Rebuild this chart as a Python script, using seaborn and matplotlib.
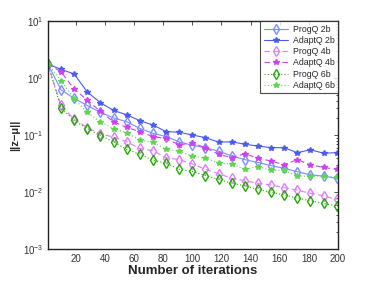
import numpy as np
import pandas as pd
import seaborn as sns
import matplotlib.pyplot as plt
from matplotlib.ticker import LogLocator, NullFormatter

# iteration numbers where the error was recorded
iterations = [1, 10, 19, 28, 37, 46, 55, 64, 73, 82, 91, 100, 109, 118,
              127, 136, 145, 154, 163, 172, 181, 190, 199]

progq_2b = [1.76, 0.62, 0.44, 0.33, 0.25, 0.20, 0.171, 0.131, 0.107, 0.094, 0.076, 0.066,
            0.060, 0.052, 0.043, 0.037, 0.033, 0.029, 0.026, 0.0227, 0.020, 0.019, 0.0174]
adaptq_2b = [1.76, 1.42, 1.18, 0.57, 0.37, 0.27, 0.227, 0.179, 0.150, 0.115, 0.112, 0.100,
             0.090, 0.075, 0.076, 0.069, 0.064, 0.060, 0.060, 0.049, 0.055, 0.048, 0.049]
progq_4b = [1.76, 0.33, 0.19, 0.135, 0.105, 0.092, 0.076, 0.058, 0.053, 0.040, 0.037, 0.031,
            0.025, 0.021, 0.0174, 0.0158, 0.0142, 0.0133, 0.0119, 0.0108, 0.0095, 0.0086, 0.0074]
adaptq_4b = [1.76, 1.29, 0.64, 0.41, 0.26, 0.17, 0.136, 0.115, 0.094, 0.087, 0.067, 0.073,
             0.060, 0.046, 0.040, 0.047, 0.039, 0.035, 0.030, 0.037, 0.030, 0.027, 0.025]
progq_6b = [1.76, 0.30, 0.18, 0.13, 0.098, 0.076, 0.056, 0.046, 0.036, 0.032, 0.025, 0.023,
            0.0194, 0.0167, 0.0142, 0.0129, 0.0111, 0.0099, 0.0089, 0.0078, 0.0070, 0.0063, 0.0057]
adaptq_6b = [1.76, 0.90, 0.43, 0.25, 0.17, 0.13, 0.11, 0.082, 0.074, 0.056, 0.052, 0.043,
             0.039, 0.032, 0.031, 0.025, 0.028, 0.024, 0.024, 0.019, 0.019, 0.019, 0.018]

labels = ["ProgQ 2b", "AdaptQ 2b", "ProgQ 4b", "AdaptQ 4b", "ProgQ 6b", "AdaptQ 6b"]
series = [progq_2b, adaptq_2b, progq_4b, adaptq_4b, progq_6b, adaptq_6b]

# style per series: colour, line style, marker, hollow marker?
styles = [
    ("#7d8cff", "-", "d", True),
    ("#4a5cf0", "-", "*", False),
    ("#e07cff", (0, (5, 3)), "d", True),
    ("#d040ee", (0, (5, 3)), "*", False),
    ("#22aa00", (0, (1, 2)), "d", True),
    ("#5fd650", (0, (1, 2)), "*", False),
]

sns.set_style("white")
plt.rcParams['font.family'] = ['Liberation Sans', 'DejaVu Sans']

fig = plt.figure(figsize=(3.74, 2.81), dpi=100)
ax = fig.add_axes([0.128, 0.114, 0.776, 0.811])

for lab, vals, (col, ls, mk, hollow) in zip(labels, series, styles):
    sns.lineplot(x=iterations, y=vals, ax=ax, label=lab, color=col,
                 linestyle=ls, linewidth=0.8, marker=mk,
                 markersize=5 if hollow else 4,
                 markerfacecolor="none" if hollow else col,
                 markeredgecolor=col, markeredgewidth=1.0)

ax.set_yscale("log")
ax.set_xlim(1, 200)
ax.set_ylim(1e-3, 1e1)
ax.set_xticks(range(20, 201, 20))
ax.yaxis.set_major_locator(LogLocator(base=10, numticks=10))
ax.yaxis.set_minor_locator(LogLocator(base=10, subs=np.arange(2, 10), numticks=10))
ax.yaxis.set_minor_formatter(NullFormatter())

ax.tick_params(which="both", direction="in", top=True, right=True,
               labelsize=7, colors="#333333", width=0.6)
ax.tick_params(which="major", length=3)
ax.tick_params(which="minor", length=1.8)
for sp in ax.spines.values():
    sp.set_linewidth(1.0)
    sp.set_color("#222222")

ax.set_xlabel("Number of iterations", fontsize=9.5, fontweight="bold", labelpad=1)
ax.set_ylabel("||z\u2212\u03bc||", fontsize=8, fontweight="bold", labelpad=2)

leg = ax.legend(loc="upper right", fontsize=6.3, frameon=True, fancybox=False,
                borderaxespad=0, handlelength=2.8, handletextpad=0.5,
                labelspacing=0.26, borderpad=0.4)
leg.get_frame().set_edgecolor("#222222")
leg.get_frame().set_linewidth(0.8)

fig.savefig("out.png", dpi=100)
